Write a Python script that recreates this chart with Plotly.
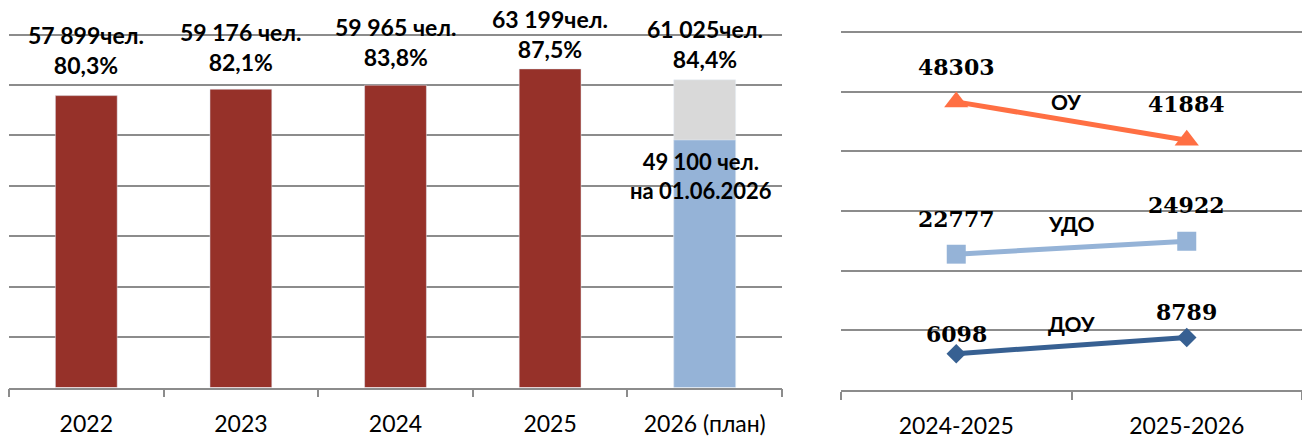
import plotly.graph_objects as go

# ---- data: left panel (bars) ----
years = ["2022", "2023", "2024", "2025", "2026 (план)"]
actual_years = ["2022", "2023", "2024", "2025"]
actual_values = [57899, 59176, 59965, 63199]
plan_year = ["2026 (план)"]
plan_total = [61025]
plan_june = [49100]
count_labels = ["57 899чел.", "59 176 чел.", "59 965 чел.", "63 199чел.", "61 025чел."]
pct_labels = ["80,3%", "82,1%", "83,8%", "87,5%", "84,4%"]
june_label = ["49 100 чел.", "на 01.06.2026"]

# ---- data: right panel (lines) ----
periods = ["2024-2025", "2025-2026"]
ou = [48303, 41884]
udo = [22777, 24922]
dou = [6098, 8789]
series_names = ["ОУ", "УДО", "ДОУ"]

# ---- styles ----
RED = "#963129"
GRAY = "#D9D9D9"
LBLUE = "#95B3D7"
DBLUE = "#376092"
ORANGE = "#FF6F43"
GRID = "#8C8C8C"
SANS = "Lato, Open Sans, sans-serif"
SERIF = "DejaVu Serif, serif"

label_shift = [46, 42, 43, 35, 36]   # px offset of label block centre above bar top

fig = go.Figure()

fig.add_trace(go.Bar(x=actual_years, y=actual_values, marker_color=RED, width=0.4,
                     xaxis="x", yaxis="y", showlegend=False))
fig.add_trace(go.Bar(x=plan_year, y=plan_total, marker_color=GRAY, width=0.4,
                     xaxis="x", yaxis="y", showlegend=False))
fig.add_trace(go.Bar(x=plan_year, y=plan_june, marker_color=LBLUE, width=0.4,
                     xaxis="x", yaxis="y", showlegend=False))

line_styles = [
    (ou, ORANGE, "triangle-up", 21),
    (udo, LBLUE, "square", 19),
    (dou, DBLUE, "diamond", 15),
]
for vals, col, sym, size in line_styles:
    fig.add_trace(go.Scatter(x=periods, y=vals, mode="lines+markers",
                             line=dict(color=col, width=5),
                             marker=dict(symbol=sym, size=size, color=col),
                             xaxis="x2", yaxis="y2", showlegend=False))

annotations = []
totals = actual_values + plan_total
for i, yr in enumerate(years):
    annotations.append(dict(
        x=i, y=totals[i], xref="x", yref="y", showarrow=False,
        text=count_labels[i] + "<br>" + pct_labels[i], yanchor="middle",
        yshift=label_shift[i],
        font=dict(family=SANS, size=23, color="black", weight="bold")))
annotations.append(dict(
    x=years.index(plan_year[0]), y=plan_june[0], xref="x", yref="y", showarrow=False,
    text="<br>".join(june_label), yanchor="middle", yshift=-36, xshift=-4,
    font=dict(family=SANS, size=22, color="black", weight="bold")))

value_shifts = [(35, 36), (35, 36), (20, 26)]
name_shifts = [(20, -6), (24, 0), (22, 0)]
for k, vals in enumerate([ou, udo, dou]):
    for j, p in enumerate(periods):
        annotations.append(dict(
            x=j, y=vals[j], xref="x2", yref="y2", showarrow=False,
            text=str(vals[j]), yanchor="middle", yshift=value_shifts[k][j],
            font=dict(family=SERIF, size=22, color="black", weight="bold")))
    annotations.append(dict(
        x=0.5, y=(vals[0] + vals[1]) / 2, xref="x2", yref="y2", showarrow=False,
        text=series_names[k], yanchor="middle",
        yshift=name_shifts[k][0], xshift=name_shifts[k][1],
        font=dict(family=SANS, size=21, color="black", weight="bold")))

axis_x_common = dict(type="category", showgrid=False, showline=True, linecolor=GRID,
                     linewidth=1.5, ticks="outside", tickson="boundaries", ticklen=8,
                     tickcolor=GRID, tickwidth=1.5, ticklabelstandoff=15,
                     tickfont=dict(family=SANS, size=23, color="black"))
axis_y_common = dict(showgrid=True, gridcolor=GRID, gridwidth=1.5, showticklabels=False,
                     zeroline=False, showline=False, ticks="", dtick=10000)

# a little head-room so the top gridline is drawn
left_ppu = 357 / 70000
right_ppu = 362 / 60000
pad = 400

fig.update_layout(
    width=1302, height=439,
    margin=dict(l=0, r=0, t=0, b=0),
    paper_bgcolor="white", plot_bgcolor="white",
    barmode="overlay",
    xaxis=dict(domain=[9 / 1302, 782 / 1302], anchor="y", range=[-0.5, 4.5], **axis_x_common),
    yaxis=dict(domain=[47 / 439, (404 + pad * left_ppu) / 439], anchor="x",
               range=[0, 70000 + pad], **axis_y_common),
    xaxis2=dict(domain=[841 / 1302, 1.0], anchor="y2", range=[-0.5, 1.5], **axis_x_common),
    yaxis2=dict(domain=[44.5 / 439, (406.5 + pad * right_ppu) / 439], anchor="x2",
                range=[0, 60000 + pad], **axis_y_common),
    annotations=annotations,
)

fig.write_html("out.html", config={"displayModeBar": False},
               post_script="document.body.style.margin='0';")
